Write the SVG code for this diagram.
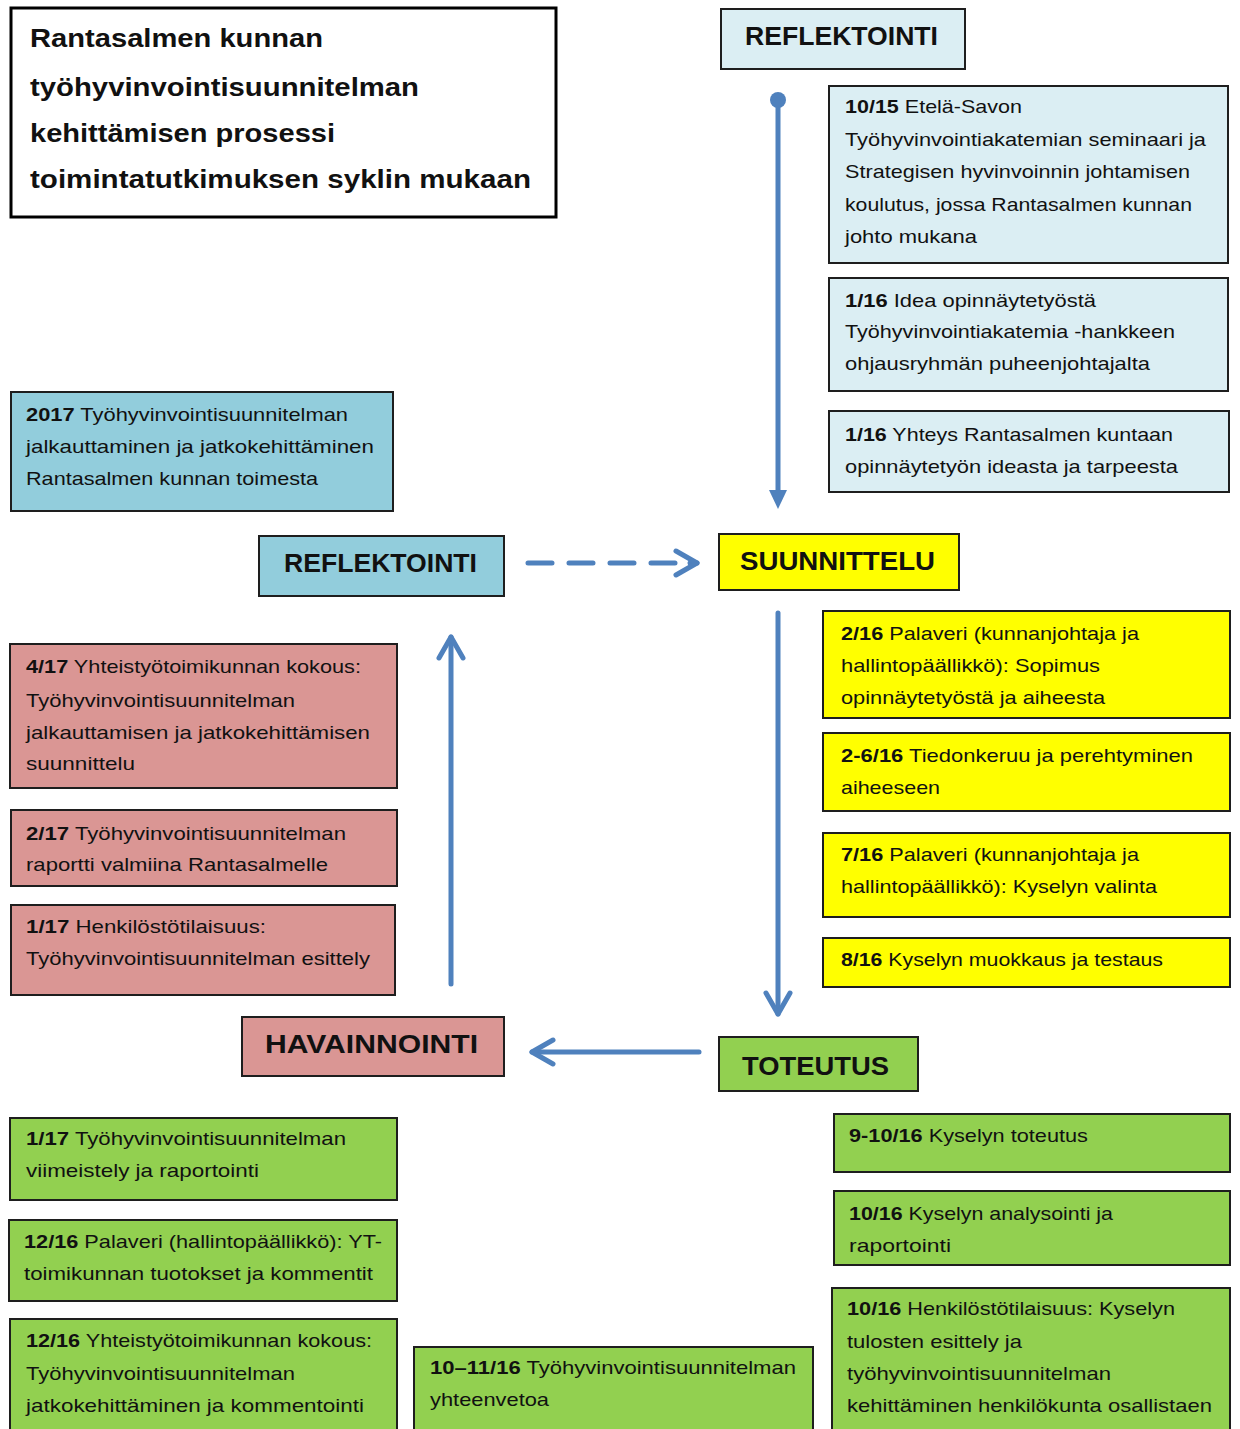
<svg xmlns="http://www.w3.org/2000/svg" width="1240" height="1429" viewBox="0 0 1240 1429">
<style>
.bx{stroke:#1e1e1e;stroke-width:2}
.lb{fill:#DBEEF3}.mb{fill:#92CDDC}.ye{fill:#FFFF00}.gr{fill:#92D050}.pk{fill:#DA9694}
text{font-family:"Liberation Sans",Arial,sans-serif;fill:#111}
.t{font-size:19px}
.h{font-size:25px;font-weight:bold}
.ti{font-size:26px;font-weight:bold}
.b{font-weight:bold}
.c{stroke:#4F81BD;stroke-width:5;fill:none;stroke-linecap:round}
</style>
<defs>
<marker id="chev" markerUnits="userSpaceOnUse" markerWidth="40" markerHeight="40" viewBox="-30 -20 40 40" refX="0" refY="0" orient="auto" overflow="visible">
<path d="M -21 -12 L 0 0 L -21 12" fill="none" stroke="#4F81BD" stroke-width="5" stroke-linecap="round" stroke-linejoin="round"/>
</marker>
</defs>

<g id="title">
<rect x="11" y="8" width="545" height="209" fill="#fff" stroke="#000" stroke-width="3"/>
<text class="ti" x="30" y="47" textLength="293" lengthAdjust="spacingAndGlyphs">Rantasalmen kunnan</text>
<text class="ti" x="30" y="96" textLength="389" lengthAdjust="spacingAndGlyphs">työhyvinvointisuunnitelman</text>
<text class="ti" x="30" y="142" textLength="305" lengthAdjust="spacingAndGlyphs">kehittämisen prosessi</text>
<text class="ti" x="30" y="188" textLength="501" lengthAdjust="spacingAndGlyphs">toimintatutkimuksen syklin mukaan</text>
</g>

<g id="reflektointi-top">
<rect class="bx lb" x="721" y="9" width="244" height="60"/>
<text class="h" x="745" y="45" textLength="193" lengthAdjust="spacingAndGlyphs">REFLEKTOINTI</text>
</g>

<g id="r1">
<rect class="bx lb" x="829" y="86" width="399" height="177"/>
<text class="t" x="845" y="113" textLength="177" lengthAdjust="spacingAndGlyphs"><tspan class="b">10/15</tspan> Etelä-Savon</text>
<text class="t" x="845" y="146" textLength="361" lengthAdjust="spacingAndGlyphs">Työhyvinvointiakatemian seminaari ja</text>
<text class="t" x="845" y="178" textLength="345" lengthAdjust="spacingAndGlyphs">Strategisen hyvinvoinnin johtamisen</text>
<text class="t" x="845" y="211" textLength="347" lengthAdjust="spacingAndGlyphs">koulutus, jossa Rantasalmen kunnan</text>
<text class="t" x="845" y="243" textLength="132" lengthAdjust="spacingAndGlyphs">johto mukana</text>
</g>
<g id="r2">
<rect class="bx lb" x="829" y="278" width="399" height="113"/>
<text class="t" x="845" y="307" textLength="251" lengthAdjust="spacingAndGlyphs"><tspan class="b">1/16</tspan> Idea opinnäytetyöstä</text>
<text class="t" x="845" y="338" textLength="330" lengthAdjust="spacingAndGlyphs">Työhyvinvointiakatemia -hankkeen</text>
<text class="t" x="845" y="370" textLength="305" lengthAdjust="spacingAndGlyphs">ohjausryhmän puheenjohtajalta</text>
</g>
<g id="r3">
<rect class="bx lb" x="829" y="411" width="400" height="81"/>
<text class="t" x="845" y="441" textLength="328" lengthAdjust="spacingAndGlyphs"><tspan class="b">1/16</tspan> Yhteys Rantasalmen kuntaan</text>
<text class="t" x="845" y="473" textLength="333" lengthAdjust="spacingAndGlyphs">opinnäytetyön  ideasta ja tarpeesta</text>
</g>

<g id="b2017">
<rect class="bx mb" x="11" y="392" width="382" height="119"/>
<text class="t" x="26" y="421" textLength="322" lengthAdjust="spacingAndGlyphs"><tspan class="b">2017</tspan> Työhyvinvointisuunnitelman</text>
<text class="t" x="26" y="453" textLength="348" lengthAdjust="spacingAndGlyphs">jalkauttaminen ja jatkokehittäminen</text>
<text class="t" x="26" y="485" textLength="292" lengthAdjust="spacingAndGlyphs">Rantasalmen kunnan toimesta</text>
</g>

<g id="reflektointi-mid">
<rect class="bx mb" x="259" y="536" width="245" height="60"/>
<text class="h" x="284" y="572" textLength="193" lengthAdjust="spacingAndGlyphs">REFLEKTOINTI</text>
</g>

<g id="suunnittelu">
<rect class="bx ye" x="719" y="534" width="240" height="56"/>
<text class="h" x="740" y="570" textLength="195" lengthAdjust="spacingAndGlyphs">SUUNNITTELU</text>
</g>

<g id="y1">
<rect class="bx ye" x="823" y="611" width="407" height="107"/>
<text class="t" x="841" y="640" textLength="298" lengthAdjust="spacingAndGlyphs"><tspan class="b">2/16</tspan> Palaveri (kunnanjohtaja ja</text>
<text class="t" x="841" y="672" textLength="259" lengthAdjust="spacingAndGlyphs">hallintopäällikkö): Sopimus</text>
<text class="t" x="841" y="704" textLength="264" lengthAdjust="spacingAndGlyphs">opinnäytetyöstä ja aiheesta</text>
</g>
<g id="y2">
<rect class="bx ye" x="823" y="733" width="407" height="78"/>
<text class="t" x="841" y="762" textLength="352" lengthAdjust="spacingAndGlyphs"><tspan class="b">2-6/16</tspan> Tiedonkeruu ja perehtyminen</text>
<text class="t" x="841" y="794" textLength="99" lengthAdjust="spacingAndGlyphs">aiheeseen</text>
</g>
<g id="y3">
<rect class="bx ye" x="823" y="833" width="407" height="84"/>
<text class="t" x="841" y="861" textLength="298" lengthAdjust="spacingAndGlyphs"><tspan class="b">7/16</tspan> Palaveri (kunnanjohtaja ja</text>
<text class="t" x="841" y="893" textLength="316" lengthAdjust="spacingAndGlyphs">hallintopäällikkö): Kyselyn valinta</text>
</g>
<g id="y4">
<rect class="bx ye" x="823" y="938" width="407" height="49"/>
<text class="t" x="841" y="966" textLength="322" lengthAdjust="spacingAndGlyphs"><tspan class="b">8/16</tspan> Kyselyn muokkaus ja testaus</text>
</g>

<g id="p1">
<rect class="bx pk" x="10" y="644" width="387" height="144"/>
<text class="t" x="26" y="673" textLength="335" lengthAdjust="spacingAndGlyphs"><tspan class="b">4/17</tspan> Yhteistyötoimikunnan kokous:</text>
<text class="t" x="26" y="707" textLength="269" lengthAdjust="spacingAndGlyphs">Työhyvinvointisuunnitelman</text>
<text class="t" x="26" y="739" textLength="344" lengthAdjust="spacingAndGlyphs">jalkauttamisen ja jatkokehittämisen</text>
<text class="t" x="26" y="770" textLength="109" lengthAdjust="spacingAndGlyphs">suunnittelu</text>
</g>
<g id="p2">
<rect class="bx pk" x="11" y="810" width="386" height="76"/>
<text class="t" x="26" y="840" textLength="320" lengthAdjust="spacingAndGlyphs"><tspan class="b">2/17</tspan> Työhyvinvointisuunnitelman</text>
<text class="t" x="26" y="871" textLength="302" lengthAdjust="spacingAndGlyphs">raportti valmiina Rantasalmelle</text>
</g>
<g id="p3">
<rect class="bx pk" x="11" y="905" width="384" height="90"/>
<text class="t" x="26" y="933" textLength="240" lengthAdjust="spacingAndGlyphs"><tspan class="b">1/17</tspan> Henkilöstötilaisuus:</text>
<text class="t" x="26" y="965" textLength="344" lengthAdjust="spacingAndGlyphs">Työhyvinvointisuunnitelman esittely</text>
</g>

<g id="havainnointi">
<rect class="bx pk" x="242" y="1017" width="262" height="59"/>
<text class="h" x="265" y="1053" textLength="213" lengthAdjust="spacingAndGlyphs">HAVAINNOINTI</text>
</g>

<g id="toteutus">
<rect class="bx gr" x="719" y="1037" width="199" height="54"/>
<text class="h" x="742" y="1075" textLength="147" lengthAdjust="spacingAndGlyphs">TOTEUTUS</text>
</g>

<g id="g1">
<rect class="bx gr" x="10" y="1118" width="387" height="82"/>
<text class="t" x="26" y="1145" textLength="320" lengthAdjust="spacingAndGlyphs"><tspan class="b">1/17</tspan> Työhyvinvointisuunnitelman</text>
<text class="t" x="26" y="1177" textLength="233" lengthAdjust="spacingAndGlyphs">viimeistely ja raportointi</text>
</g>
<g id="g2">
<rect class="bx gr" x="9" y="1220" width="388" height="81"/>
<text class="t" x="24" y="1248" textLength="358" lengthAdjust="spacingAndGlyphs"><tspan class="b">12/16</tspan> Palaveri (hallintopäällikkö): YT-</text>
<text class="t" x="24" y="1280" textLength="349" lengthAdjust="spacingAndGlyphs">toimikunnan tuotokset ja kommentit</text>
</g>
<g id="g3">
<rect class="bx gr" x="10" y="1319" width="387" height="120"/>
<text class="t" x="26" y="1347" textLength="346" lengthAdjust="spacingAndGlyphs"><tspan class="b">12/16</tspan> Yhteistyötoimikunnan kokous:</text>
<text class="t" x="26" y="1380" textLength="269" lengthAdjust="spacingAndGlyphs">Työhyvinvointisuunnitelman</text>
<text class="t" x="26" y="1412" textLength="338" lengthAdjust="spacingAndGlyphs">jatkokehittäminen ja kommentointi</text>
</g>
<g id="g4">
<rect class="bx gr" x="414" y="1347" width="399" height="92"/>
<text class="t" x="430" y="1374" textLength="366" lengthAdjust="spacingAndGlyphs"><tspan class="b">10–11/16</tspan> Työhyvinvointisuunnitelman</text>
<text class="t" x="430" y="1406" textLength="119" lengthAdjust="spacingAndGlyphs">yhteenvetoa</text>
</g>
<g id="t1">
<rect class="bx gr" x="834" y="1114" width="396" height="58"/>
<text class="t" x="849" y="1142" textLength="239" lengthAdjust="spacingAndGlyphs"><tspan class="b">9-10/16</tspan> Kyselyn toteutus</text>
</g>
<g id="t2">
<rect class="bx gr" x="834" y="1191" width="396" height="74"/>
<text class="t" x="849" y="1220" textLength="264" lengthAdjust="spacingAndGlyphs"><tspan class="b">10/16</tspan> Kyselyn analysointi ja</text>
<text class="t" x="849" y="1252" textLength="102" lengthAdjust="spacingAndGlyphs">raportointi</text>
</g>
<g id="t3">
<rect class="bx gr" x="832" y="1288" width="398" height="151"/>
<text class="t" x="847" y="1315" textLength="328" lengthAdjust="spacingAndGlyphs"><tspan class="b">10/16</tspan> Henkilöstötilaisuus: Kyselyn</text>
<text class="t" x="847" y="1348" textLength="175" lengthAdjust="spacingAndGlyphs">tulosten esittely ja</text>
<text class="t" x="847" y="1380" textLength="264" lengthAdjust="spacingAndGlyphs">työhyvinvointisuunnitelman</text>
<text class="t" x="847" y="1412" textLength="365" lengthAdjust="spacingAndGlyphs">kehittäminen henkilökunta osallistaen</text>
</g>

<g id="connectors">
<circle cx="778" cy="100" r="8" fill="#4F81BD"/>
<path class="c" d="M 778 100 L 778 493" stroke-linecap="butt"/>
<polygon points="769,490 787,490 778,509" fill="#4F81BD"/>
<path class="c" d="M 528 563 L 693 563" stroke-dasharray="24 17" stroke-linecap="butt"/>
<path class="c" d="M 690 563 L 697 563" marker-end="url(#chev)"/>
<path class="c" d="M 778 613 L 778 1014" marker-end="url(#chev)"/>
<path class="c" d="M 699 1052 L 532 1052" marker-end="url(#chev)"/>
<path class="c" d="M 451 984 L 451 637" marker-end="url(#chev)"/>
</g>
</svg>
